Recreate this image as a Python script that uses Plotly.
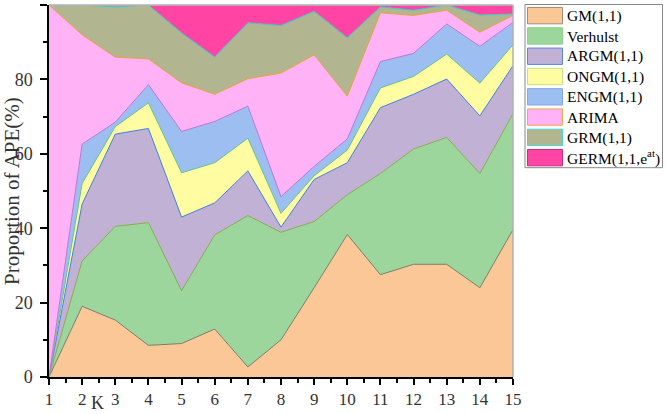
import plotly.graph_objects as go

K = list(range(1, 16))
series_names = ["GM(1,1)", "Verhulst", "ARGM(1,1)", "ONGM(1,1)", "ENGM(1,1)",
                "ARIMA", "GRM(1,1)", "GERM(1,1,e<sup>at</sup>)"]

GM       = [0, 19.0, 15.3, 8.5, 9.0, 12.9, 2.7, 10.0, 24.0, 38.3, 27.5, 30.3, 30.3, 24.0, 39.6]
Verhulst = [0, 12.2, 25.2, 33.0, 14.2, 25.3, 40.7, 28.9, 17.8, 10.7, 27.2, 31.0, 34.1, 30.7, 31.2]
ARGM     = [0, 15.3, 24.8, 25.3, 19.8, 8.6, 12.0, 1.4, 11.3, 8.6, 17.7, 14.7, 15.7, 15.5, 12.9]
ONGM     = [0, 5.5, 2.0, 6.9, 11.9, 10.8, 8.8, 3.7, 1.0, 3.4, 5.3, 4.8, 6.7, 8.8, 5.6]
ENGM     = [0, 10.6, 1.2, 4.9, 11.1, 11.1, 8.6, 4.5, 2.5, 3.0, 7.1, 6.2, 8.1, 9.9, 6.0]
ARIMA    = [100, 29.4, 17.5, 6.9, 13.1, 7.3, 7.4, 33.2, 30.0, 11.5, 13.1, 10.2, 3.7, 3.8, 1.9]
GRM      = [0, 8.0, 13.5, 14.5, 13.4, 10.0, 15.0, 12.8, 11.7, 15.7, 1.6, 1.4, 1.4, 4.6, 0.4]
GERM     = [0, 0, 0.5, 0, 7.5, 14.0, 4.8, 5.5, 1.7, 8.8, 0.5, 1.4, 0, 2.7, 2.4]

values = [GM, Verhulst, ARGM, ONGM, ENGM, ARIMA, GRM, GERM]
fill_colors = ["#FCC797", "#9CD69C", "#C1B1D5", "#FFFCA1", "#9DBEF1",
               "#FFB2F6", "#B1B590", "#FF44A3"]
line_colors = ["#7d7d68", "#8aaa4c", "#3f7fe0", "#66c48a", "#b478d8",
               "#e6a23a", "#35cccc", "#d8d8d8"]
box_borders = ["#a08a78", "#86d486", "#5a86e0", "#c6e08a", "#86a6e6",
               "#f0a848", "#44d2d2", "#c42a86"]

W, H = 666, 414
L, R, T, B = 49, 153, 5, 34
PW, PH = W - L - R, H - T - B

def px_x(px):
    return (px - L) / PW

def px_y(py):
    return (H - B - py) / PH

fig = go.Figure()
for name, vals, fc, lc in zip(series_names, values, fill_colors, line_colors):
    fig.add_trace(go.Scatter(
        x=K, y=vals, name=name, mode="lines", stackgroup="one",
        line=dict(color=lc, width=1), fillcolor=fc, showlegend=False,
    ))

serif = "Liberation Serif"

shapes = [
    dict(type="line", xref="paper", yref="paper", x0=0, x1=1, y0=1, y1=1,
         line=dict(color="#b0b0b0", width=1.5)),
    dict(type="line", xref="paper", yref="paper", x0=1, x1=1, y0=0, y1=1,
         line=dict(color="#b0b0b0", width=1.5)),
    # legend frame
    dict(type="rect", xref="paper", yref="paper",
         x0=px_x(525), x1=px_x(662.5), y0=px_y(169), y1=px_y(4.5),
         line=dict(color="#888888", width=1), fillcolor="white"),
]
annotations = []
for i, (name, fc, bc) in enumerate(zip(series_names, fill_colors, box_borders)):
    top = 7.5 + 20.45 * i
    shapes.append(dict(type="rect", xref="paper", yref="paper",
                       x0=px_x(527.5), x1=px_x(562.5),
                       y0=px_y(top + 16.5), y1=px_y(top),
                       line=dict(color=bc, width=1), fillcolor=fc))
    annotations.append(dict(xref="paper", yref="paper", x=px_x(565), y=px_y(top + 8.5),
                            text=name, showarrow=False, xanchor="left", yanchor="middle",
                            font=dict(family=serif, size=15.5, color="black")))

annotations.append(dict(xref="paper", yref="paper", x=px_x(12), y=0.5,
                        text="Proportion of APE(%)", textangle=-90, showarrow=False,
                        xanchor="center", yanchor="middle",
                        font=dict(family=serif, size=21, color="#333333")))
annotations.append(dict(xref="paper", yref="paper", x=px_x(97), y=px_y(406),
                        text="K", showarrow=False, xanchor="center", yanchor="middle",
                        font=dict(family=serif, size=18, color="#333333")))

fig.update_layout(
    width=W, height=H, margin=dict(l=L, r=R, t=T, b=B, pad=0),
    paper_bgcolor="white", plot_bgcolor="white",
    font=dict(family=serif, size=16, color="#333333"),
    shapes=shapes, annotations=annotations, showlegend=False,
    xaxis=dict(range=[1, 15], tickmode="array", tickvals=K, ticktext=[str(k) for k in K],
               ticks="outside", ticklen=6, tickcolor="black", tickwidth=1.5,
               showline=True, linecolor="black", linewidth=1.5, showgrid=False,
               zeroline=False, tickfont=dict(family=serif, size=17, color="#333333"),
               minor=dict(dtick=0.5, ticks="outside", ticklen=4, tickcolor="black",
                          tickwidth=1.5, showgrid=False)),
    yaxis=dict(range=[0, 100], tickmode="array", tickvals=[0, 20, 40, 60, 80, 100],
               ticks="outside", ticklen=7, tickcolor="black", tickwidth=1.5,
               showline=True, linecolor="black", linewidth=1.5, showgrid=False,
               zeroline=False, ticklabelstandoff=4,
               tickfont=dict(family=serif, size=18, color="#333333"),
               minor=dict(dtick=10, ticks="outside", ticklen=4, tickcolor="black",
                          tickwidth=1.5, showgrid=False)),
)

fig.write_html("out.html", config={"displayModeBar": False},
               post_script="document.body.style.margin='0';")
